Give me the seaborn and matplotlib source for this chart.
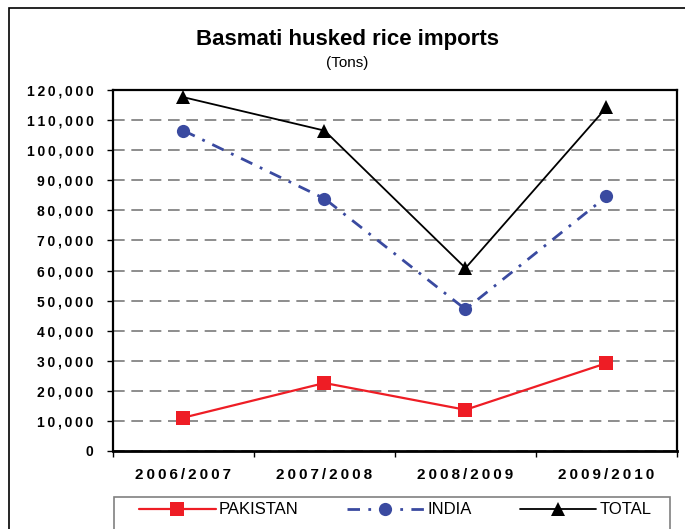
import matplotlib
matplotlib.use("Agg")
import matplotlib.pyplot as plt
from matplotlib.patches import Rectangle
from matplotlib.ticker import FixedLocator, FuncFormatter
import seaborn as sns
import pandas as pd

# data (tons)
seasons = ["2006/2007", "2007/2008", "2008/2009", "2009/2010"]
pakistan = [11100, 22600, 13700, 29200]
india = [106500, 83900, 47100, 84600]
total = [117600, 106500, 60800, 114200]

y_ticks = list(range(0, 120001, 10000))

sns.set_style("white", {"text.color": "black", "xtick.color": "black",
                        "ytick.color": "black"})
plt.rcParams["font.family"] = ["Liberation Sans", "DejaVu Sans"]

THIN = "\u2009"


def spaced(s, sep=THIN):
    return sep.join(s)


fig = plt.figure(figsize=(6.85, 5.29), dpi=100)
ax = fig.add_axes([113 / 685, 1 - 451 / 529, 564 / 685, 361 / 529])

df = pd.DataFrame({"season": seasons, "PAKISTAN": pakistan,
                   "INDIA": india, "TOTAL": total})

sns.lineplot(data=df, x="season", y="PAKISTAN", ax=ax, color="#EE1D25",
             lw=1.6, marker="s", markersize=9.5, markeredgewidth=0,
             label="PAKISTAN")
sns.lineplot(data=df, x="season", y="INDIA", ax=ax, color="#3A4AA0",
             lw=2.0, marker="o", markersize=9.5, markeredgewidth=0,
             dashes=(4.5, 3, 1, 3), label="INDIA")
sns.lineplot(data=df, x="season", y="TOTAL", ax=ax, color="black",
             lw=1.3, marker="^", markersize=10, markeredgewidth=0,
             label="TOTAL")

ax.set_xlim(-0.5, 3.5)
ax.set_ylim(0, 120000)
ax.set_xlabel("")
ax.set_ylabel("")

# y axis
ax.yaxis.set_major_locator(FixedLocator(y_ticks))
ax.yaxis.set_major_formatter(FuncFormatter(lambda v, p: spaced(f"{int(v):,}")))
ax.tick_params(axis="y", length=4, width=1, color="black", pad=10,
               labelsize=10, labelcolor="black")
for t in ax.get_yticklabels():
    t.set_fontweight("bold")

# x axis: ticks on category boundaries, labels in the middle
ax.xaxis.set_major_locator(FixedLocator([-0.5, 0.5, 1.5, 2.5, 3.5]))
ax.xaxis.set_major_formatter(FuncFormatter(lambda v, p: ""))
ax.xaxis.set_minor_locator(FixedLocator([0, 1, 2, 3]))
ax.xaxis.set_minor_formatter(FuncFormatter(lambda v, p: spaced(seasons[int(round(v))])))
ax.tick_params(axis="x", which="major", length=4, width=1, color="black",
               direction="out")
ax.tick_params(axis="x", which="minor", length=0, pad=12, labelsize=11,
               labelcolor="black")
for t in ax.get_xticklabels(minor=True):
    t.set_fontweight("bold")
ax.tick_params(axis="both", direction="out", bottom=True, left=True)

ax.yaxis.grid(True, color="#7a7a7a", linestyle=(0, (7, 4)), lw=1.2)
ax.xaxis.grid(False)
for side, sp in ax.spines.items():
    sp.set_visible(True)
    sp.set_color("black")
    sp.set_linewidth(1.6)
ax.spines["bottom"].set_linewidth(2)

# titles
fig.text(348 / 685, 1 - 45.5 / 529, "Basmati husked rice imports",
         ha="center", va="baseline", fontsize=16, fontweight="bold",
         color="black")
fig.text(347 / 685, 1 - 67 / 529, "(Tons)", ha="center", va="baseline",
         fontsize=11, color="black")

# legend
handles, labels = ax.get_legend_handles_labels()
ax.get_legend().remove()
leg = fig.legend(handles, labels, loc="center left",
                 bbox_to_anchor=(139 / 685, 1 - 510 / 529), ncol=3,
                 frameon=False, fontsize=12, handlelength=4.6,
                 handletextpad=0.2, columnspacing=2.9, borderpad=0,
                 borderaxespad=0)
for t in leg.get_texts():
    t.set_color("black")
fig.patches.append(Rectangle((114 / 685, -0.05), (670 - 114) / 685,
                             0.05 + (529 - 497) / 529,
                             transform=fig.transFigure, fill=False,
                             edgecolor="#808080", lw=1.2))
# outer chart border
fig.patches.append(Rectangle((9 / 685, -0.05), 1.0, 0.05 + (529 - 8) / 529,
                             transform=fig.transFigure, fill=False,
                             edgecolor="black", lw=1.2))

fig.savefig("out.png", dpi=100)
